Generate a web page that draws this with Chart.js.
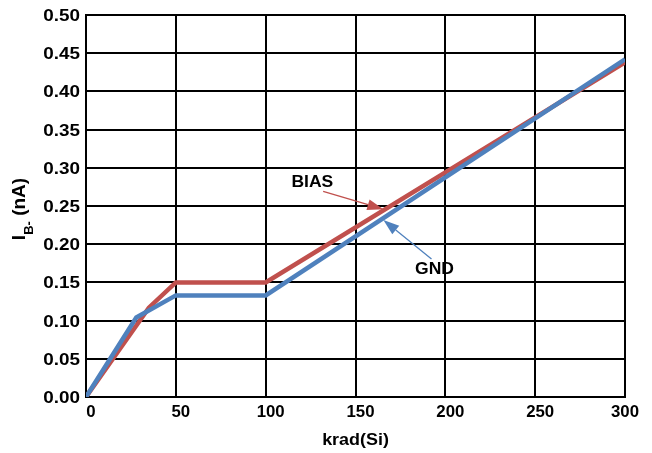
<!DOCTYPE html>
<html>
<head>
<meta charset="utf-8">
<script src="https://cdn.jsdelivr.net/npm/chart.js@4/dist/chart.umd.min.js"></script>
<style>
html,body{margin:0;padding:0;background:#fff;}
#wrap{width:652px;height:453px;position:relative;}
</style>
</head>
<body>
<div id="wrap"><canvas id="c" width="652" height="453"></canvas></div>
<script>
// Data
const biasX = [0, 35, 50, 100, 300];
const biasY = [0, 0.117, 0.150, 0.150, 0.438];
const gndX  = [0, 28, 50, 100, 300];
const gndY  = [0, 0.104, 0.133, 0.133, 0.442];
const xTicks = [0, 50, 100, 150, 200, 250, 300];
const yTicks = [0, 0.05, 0.10, 0.15, 0.20, 0.25, 0.30, 0.35, 0.40, 0.45, 0.50];
const xTitle = 'krad(Si)';
const yTitleMain = 'I';
const yTitleSub = 'B-';
const yTitleRest = ' (nA)';
// annotations in data units: label, text pos, arrow tail, arrow tip
const annBias = {text:'BIAS', tx:126, ty:0.281, ax:132, ay:0.269, bx:165.5, by:0.2457};
const annGnd  = {text:'GND',  tx:194, ty:0.1675, ax:192.3, ay:0.1806, bx:165.5, by:0.2317};

const RED = '#c0504d';
const BLUE = '#4f81bd';
const FONT = '"Liberation Sans", Arial, sans-serif';

function pts(xs, ys){ return xs.map((x,i)=>({x:x, y:ys[i]})); }

function txt(ctx, s, x, y, align, base, size, sx){
  ctx.save();
  ctx.font = 'bold ' + size + 'px ' + FONT;
  ctx.fillStyle = '#000';
  ctx.textAlign = align; ctx.textBaseline = base;
  ctx.translate(x, y);
  ctx.scale(sx, 1);
  ctx.fillText(s, 0, 0);
  ctx.restore();
}

const annPlugin = {
  id:'ann',
  afterDatasetsDraw(chart){
    const ctx = chart.ctx, xs = chart.scales.x, ys = chart.scales.y;
    function arrow(a, color){
      const x1 = xs.getPixelForValue(a.ax), y1 = ys.getPixelForValue(a.ay);
      const x2 = xs.getPixelForValue(a.bx), y2 = ys.getPixelForValue(a.by);
      const ang = Math.atan2(y2-y1, x2-x1);
      const hl = 16, hw = 5.5;
      const bx = x2 - hl*Math.cos(ang), by = y2 - hl*Math.sin(ang);
      ctx.save();
      ctx.strokeStyle = color; ctx.fillStyle = color; ctx.lineWidth = 1.3;
      ctx.beginPath(); ctx.moveTo(x1,y1); ctx.lineTo(bx,by); ctx.stroke();
      ctx.beginPath();
      ctx.moveTo(x2,y2);
      ctx.lineTo(bx + hw*Math.sin(ang), by - hw*Math.cos(ang));
      ctx.lineTo(bx - hw*Math.sin(ang), by + hw*Math.cos(ang));
      ctx.closePath(); ctx.fill();
      ctx.restore();
    }
    arrow(annBias, RED); arrow(annGnd, BLUE);
    txt(ctx, annBias.text, xs.getPixelForValue(annBias.tx), ys.getPixelForValue(annBias.ty), 'center', 'middle', 17, 1.03);
    txt(ctx, annGnd.text, xs.getPixelForValue(annGnd.tx), ys.getPixelForValue(annGnd.ty), 'center', 'middle', 17, 1.03);
  },
  afterDraw(chart){
    const ctx = chart.ctx, xs = chart.scales.x, ys = chart.scales.y;
    // tick labels from the scales' ticks
    ys.ticks.forEach(t => {
      txt(ctx, Number(t.value).toFixed(2), xs.left - 6, ys.getPixelForValue(t.value) + 1.5, 'right', 'middle', 16, 1.18);
    });
    xs.ticks.forEach((t, i) => {
      let px = xs.getPixelForValue(t.value) + (i === xs.ticks.length - 1 ? 0 : 5);
      txt(ctx, String(t.value), px, ys.bottom + 16, 'center', 'middle', 16, 1.05);
    });
    // x title
    txt(ctx, xTitle, (xs.left + xs.right)/2, 441, 'center', 'middle', 16, 1.12);
    // y title with subscript
    const cy = (ys.top + ys.bottom)/2 + 3;
    ctx.save();
    ctx.translate(25, cy);
    ctx.rotate(-Math.PI/2);
    ctx.fillStyle = '#000';
    ctx.textBaseline = 'alphabetic';
    ctx.font = 'bold 19px ' + FONT;
    const w1 = ctx.measureText(yTitleMain).width;
    const w3 = ctx.measureText(yTitleRest).width;
    ctx.font = 'bold 13px ' + FONT;
    const w2 = ctx.measureText(yTitleSub).width;
    let x = -(w1+w2+w3)/2;
    ctx.font = 'bold 19px ' + FONT;
    ctx.fillText(yTitleMain, x, 0); x += w1;
    ctx.font = 'bold 13px ' + FONT;
    ctx.fillText(yTitleSub, x, 7.5); x += w2;
    ctx.font = 'bold 19px ' + FONT;
    ctx.fillText(yTitleRest, x, 0);
    ctx.restore();
  }
};

new Chart(document.getElementById('c'), {
  type:'line',
  data:{
    datasets:[
      {label:'GND', data:pts(gndX, gndY), borderColor:BLUE, borderWidth:4.5, pointRadius:0, tension:0, fill:false},
      {label:'BIAS', data:pts(biasX, biasY), borderColor:RED, borderWidth:4.5, pointRadius:0, tension:0, fill:false}
    ]
  },
  options:{
    responsive:false,
    animation:false,
    events:[],
    layout:{padding:{left:0, right:27, top:15, bottom:0}},
    plugins:{legend:{display:false}, tooltip:{enabled:false}},
    scales:{
      x:{
        type:'linear', min:0, max:300,
        afterBuildTicks(s){ s.ticks = xTicks.map(v=>({value:v})); },
        afterFit(s){ s.height = 56; },
        grid:{color:'#000', lineWidth:2, drawTicks:false},
        border:{color:'#000', width:2},
        ticks:{display:false}
      },
      y:{
        min:0, max:0.5,
        afterBuildTicks(s){ s.ticks = yTicks.map(v=>({value:v})); },
        afterFit(s){ s.width = 86; },
        grid:{color:'#000', lineWidth:2, drawTicks:false},
        border:{color:'#000', width:2},
        ticks:{display:false}
      }
    }
  },
  plugins:[annPlugin]
});
</script>
</body>
</html>
